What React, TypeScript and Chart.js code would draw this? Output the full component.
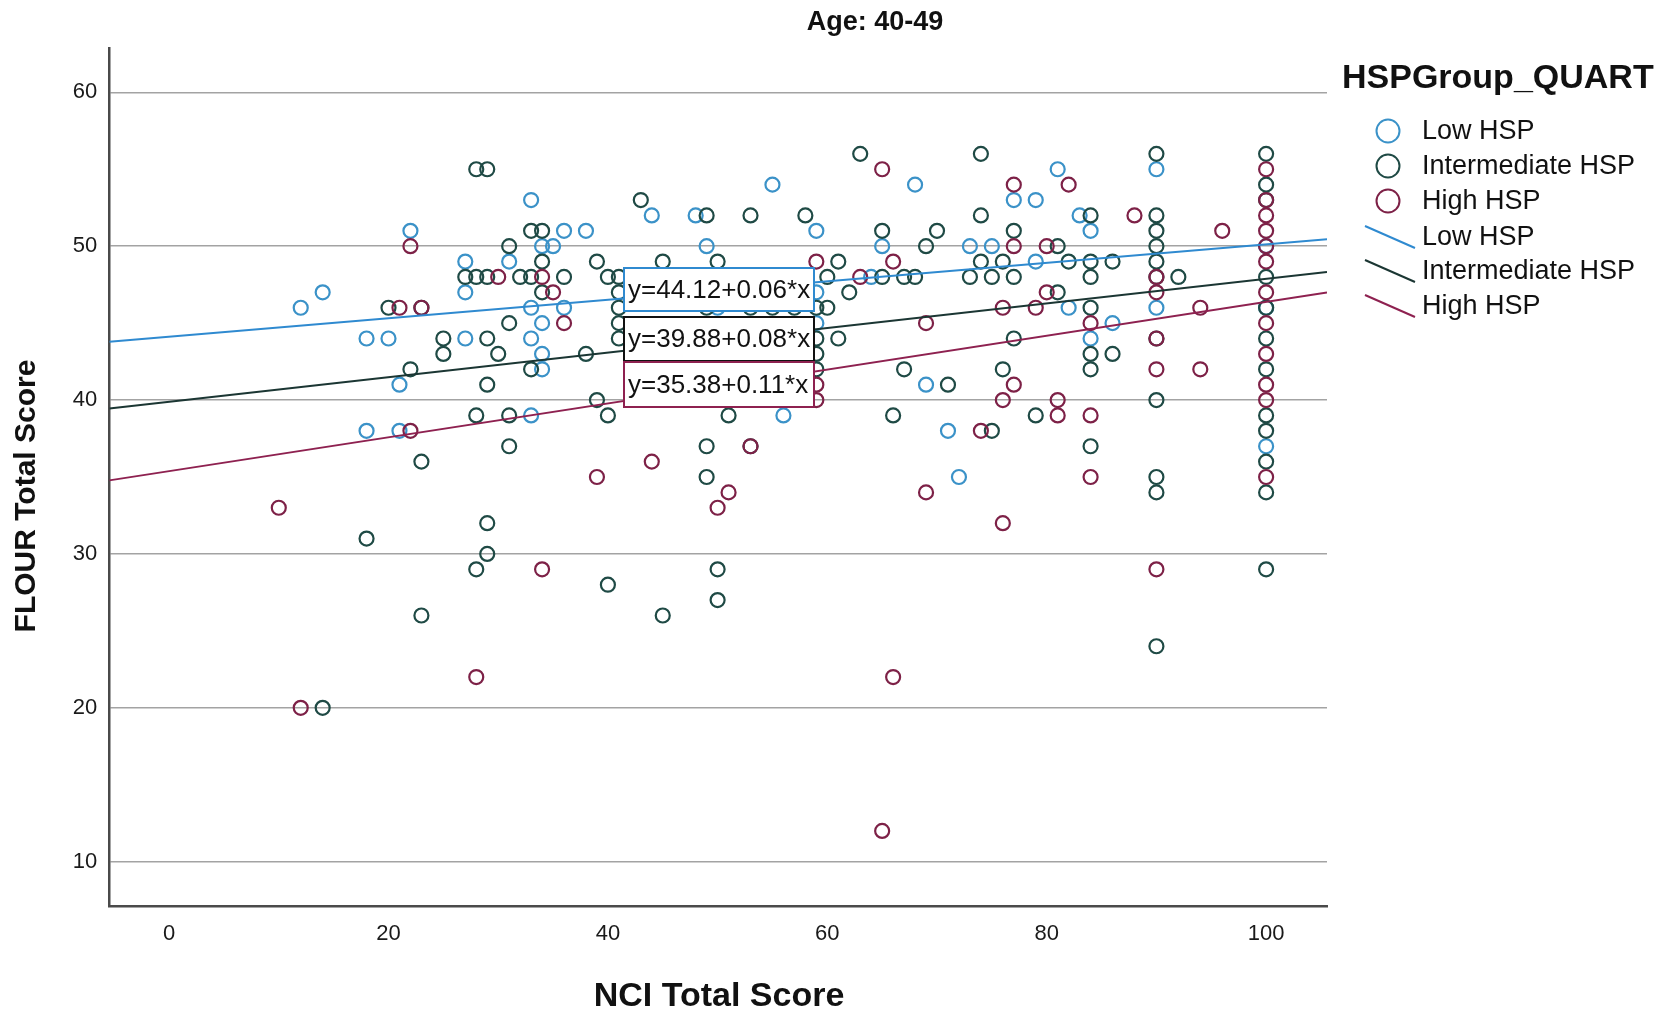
import { useEffect, useRef } from "react"
import { Chart, registerables } from "chart.js"

Chart.register(...registerables)

// group names and fit lines (y = intercept + slope * x)
const groups = ["Low HSP", "Intermediate HSP", "High HSP"]
const fitIntercepts = [44.12, 39.88, 35.38]
const fitSlopes = [0.06, 0.08, 0.11]

// tick labels
const xTicks = [0, 20, 40, 60, 80, 100]
const yTicks = [10, 20, 30, 40, 50, 60]

// NCI Total Score, FLOUR Total Score
const lowHspPoints: [number, number][] = [
  [12, 46], [14, 47], [18, 44], [20, 44], [18, 38], [22, 51], [21, 41], [21, 38],
  [27, 44], [27, 49], [27, 47], [31, 49], [33, 53], [34, 50], [35, 50], [33, 46],
  [34, 45], [33, 44], [34, 43], [34, 42], [33, 39], [36, 51], [38, 51], [36, 46],
  [44, 52], [48, 52], [49, 50], [50, 46], [55, 54], [59, 51], [59, 47], [59, 45],
  [56, 39], [64, 48], [65, 50], [68, 54], [69, 41], [71, 38], [72, 35], [73, 50],
  [75, 50], [77, 53], [79, 53], [81, 55], [79, 49], [83, 52], [84, 51], [82, 46],
  [84, 44], [86, 45], [90, 55], [90, 46], [100, 50], [100, 46], [100, 37],
]

const midHspPoints: [number, number][] = [
  [14, 20], [18, 31], [20, 46], [23, 46], [22, 42], [23, 36], [23, 26], [25, 44],
  [25, 43], [27, 48], [28, 55], [29, 55], [29, 44], [30, 43], [29, 41], [28, 39],
  [31, 39], [31, 37], [31, 50], [28, 48], [29, 48], [31, 45], [32, 48], [33, 48],
  [33, 51], [34, 51], [34, 49], [34, 47], [33, 42], [28, 29], [29, 30], [29, 32],
  [36, 48], [38, 43], [39, 49], [40, 48], [41, 48], [41, 47], [41, 46], [41, 45],
  [41, 44], [39, 40], [40, 39], [43, 53], [45, 49], [49, 52], [50, 49], [53, 52],
  [58, 52], [61, 49], [60, 48], [60, 46], [59, 46], [59, 44], [59, 43], [59, 42],
  [61, 44], [62, 47], [63, 56], [65, 51], [69, 50], [70, 51], [65, 48], [67, 48],
  [68, 48], [67, 42], [71, 41], [66, 39], [75, 38], [74, 56], [74, 52], [74, 49],
  [73, 48], [75, 48], [77, 48], [76, 49], [77, 51], [81, 50], [82, 49], [84, 52],
  [84, 49], [84, 48], [81, 47], [77, 44], [76, 42], [79, 39], [84, 46], [84, 43],
  [84, 42], [84, 37], [86, 49], [86, 43], [90, 56], [90, 52], [90, 51], [90, 50],
  [90, 49], [90, 48], [90, 44], [90, 40], [90, 35], [90, 34], [90, 24], [92, 48],
  [40, 28], [45, 26], [50, 29], [50, 27], [51, 39], [49, 37], [53, 37], [49, 35],
  [49, 46], [53, 46], [55, 46], [57, 46], [46, 42], [48, 42],
  [100, 56], [100, 54], [100, 53], [100, 48], [100, 46], [100, 44], [100, 42],
  [100, 39], [100, 38], [100, 36], [100, 34], [100, 29],
]

const highHspPoints: [number, number][] = [
  [10, 33], [12, 20], [21, 46], [23, 46], [22, 50], [22, 38], [28, 22], [30, 48],
  [34, 48], [35, 47], [36, 45], [34, 29], [39, 35], [44, 36], [50, 33], [51, 34],
  [53, 37], [59, 49], [59, 41], [59, 40], [63, 48], [65, 55], [66, 49], [69, 45],
  [69, 34], [66, 22], [65, 12], [74, 38], [76, 46], [77, 54], [77, 50], [80, 50],
  [82, 54], [80, 47], [79, 46], [77, 41], [76, 40], [76, 32], [81, 40], [81, 39],
  [84, 39], [84, 35], [84, 45], [88, 52], [90, 48], [90, 47], [90, 44], [90, 42],
  [90, 29], [94, 46], [94, 42], [96, 51],
  [100, 55], [100, 53], [100, 52], [100, 51], [100, 50], [100, 49], [100, 47],
  [100, 45], [100, 43], [100, 41], [100, 40], [100, 35],
]

const X_MIN = -5.45
const X_MAX = 105.55
const Y_MIN = 7.12
const Y_MAX = 62.88

const pointColors = ["#3b92c8", "#1f4a45", "#7d2147"]
const lineColors = ["#2f8ad0", "#1b3633", "#8e2150"]
const FONT = 'Arial, "Liberation Sans", sans-serif'

const decorPlugin = {
  id: "decor",
  afterDraw(chart: Chart) {
    const ctx = chart.ctx
    ctx.save()
    ctx.fillStyle = "#111"

    // chart title
    ctx.font = `bold 27px ${FONT}`
    ctx.textAlign = "center"
    ctx.textBaseline = "middle"
    ctx.fillText("Age: 40-49", 875, 23)

    // axis titles
    ctx.font = `bold 34px ${FONT}`
    ctx.fillText("NCI Total Score", 719, 997)
    ctx.font = `bold 30px ${FONT}`
    ctx.save()
    ctx.translate(27, 496)
    ctx.rotate(-Math.PI / 2)
    ctx.fillText("FLOUR Total Score", 0, 0)
    ctx.restore()

    // fit equations
    const boxes = [
      [268, 311],
      [317, 361],
      [362, 407],
    ]
    ctx.font = `26px ${FONT}`
    ctx.textAlign = "left"
    boxes.forEach(([top, bottom], i) => {
      ctx.fillStyle = "#fff"
      ctx.fillRect(624, top, 190, bottom - top)
      ctx.strokeStyle = i === 1 ? "#111" : lineColors[i]
      ctx.lineWidth = 2
      ctx.strokeRect(624, top, 190, bottom - top)
      ctx.fillStyle = "#111"
      const txt = `y=${fitIntercepts[i].toFixed(2)}+${fitSlopes[i].toFixed(2)}*x`
      ctx.fillText(txt, 628, (top + bottom) / 2 + 1)
    })

    // legend
    ctx.fillStyle = "#111"
    ctx.font = `bold 34px ${FONT}`
    ctx.fillText("HSPGroup_QUART", 1342, 79)
    ctx.font = `27px ${FONT}`
    const rows = [131, 166, 201, 237, 271, 306]
    rows.forEach((y, r) => {
      const g = r % 3
      if (r < 3) {
        ctx.strokeStyle = pointColors[g]
        ctx.lineWidth = 2
        ctx.beginPath()
        ctx.arc(1388, y, 11.5, 0, Math.PI * 2)
        ctx.stroke()
      } else {
        ctx.strokeStyle = lineColors[g]
        ctx.lineWidth = 2
        ctx.beginPath()
        ctx.moveTo(1365, y - 11)
        ctx.lineTo(1415, y + 11)
        ctx.stroke()
      }
      ctx.fillStyle = "#111"
      ctx.fillText(groups[g], 1422, y + 1)
    })
    ctx.restore()
  },
}

export default function App() {
  const chartRef = useRef<HTMLCanvasElement>(null)
  const chartInstance = useRef<Chart | null>(null)

  useEffect(() => {
    if (!chartRef.current) return
    if (chartInstance.current) chartInstance.current.destroy()

    const ctx = chartRef.current.getContext("2d")
    if (!ctx) return

    const scatterSets = [lowHspPoints, midHspPoints, highHspPoints].map((pts, i) => ({
      label: groups[i],
      data: pts.map(([x, y]) => ({ x, y })),
      showLine: false,
      pointStyle: "circle",
      pointRadius: 7,
      pointBorderWidth: 2.2,
      borderColor: pointColors[i],
      backgroundColor: "rgba(0,0,0,0)",
      pointBackgroundColor: "rgba(0,0,0,0)",
      order: 5 - i,
    }))

    const lineSets = groups.map((g, i) => ({
      label: g + " fit",
      data: [X_MIN, X_MAX].map((x) => ({ x, y: fitIntercepts[i] + fitSlopes[i] * x })),
      showLine: true,
      pointRadius: 0,
      borderWidth: 2,
      borderColor: lineColors[i],
      backgroundColor: lineColors[i],
      order: i,
    }))

    const tickFont = { family: FONT, size: 22 }

    chartInstance.current = new Chart(ctx, {
      type: "scatter",
      data: { datasets: [...scatterSets, ...lineSets] as any },
      options: {
        animation: false,
        responsive: false,
        devicePixelRatio: 1,
        layout: { padding: { top: 48, right: 339, bottom: 0, left: 0 } },
        plugins: {
          legend: { display: false },
          title: { display: false },
          tooltip: { enabled: false },
        },
        scales: {
          x: {
            type: "linear",
            min: X_MIN,
            max: X_MAX,
            afterBuildTicks: (s: any) => {
              s.ticks = xTicks.map((v) => ({ value: v }))
            },
            afterFit: (s: any) => {
              s.height = 113
            },
            grid: { display: false, drawTicks: false },
            border: { display: true, color: "#4a4a4a", width: 2.5 },
            ticks: { font: tickFont, color: "#1a1a1a", padding: 15, maxRotation: 0 },
          },
          y: {
            type: "linear",
            min: Y_MIN,
            max: Y_MAX,
            afterBuildTicks: (s: any) => {
              s.ticks = yTicks.map((v) => ({ value: v }))
            },
            afterFit: (s: any) => {
              s.width = 109.3
            },
            grid: { color: "#a3a3a3", lineWidth: 1.6, drawTicks: false },
            border: { display: true, color: "#4a4a4a", width: 2.5 },
            ticks: { font: tickFont, color: "#1a1a1a", padding: 12 },
          },
        },
      },
      plugins: [decorPlugin],
    })

    return () => {
      if (chartInstance.current) {
        chartInstance.current.destroy()
        chartInstance.current = null
      }
    }
  }, [])

  return (
    <div style={{ position: "absolute", left: 0, top: 0, width: 1666, height: 1019, background: "#fff" }}>
      <canvas ref={chartRef} width={1666} height={1019} style={{ display: "block" }} />
    </div>
  )
}
